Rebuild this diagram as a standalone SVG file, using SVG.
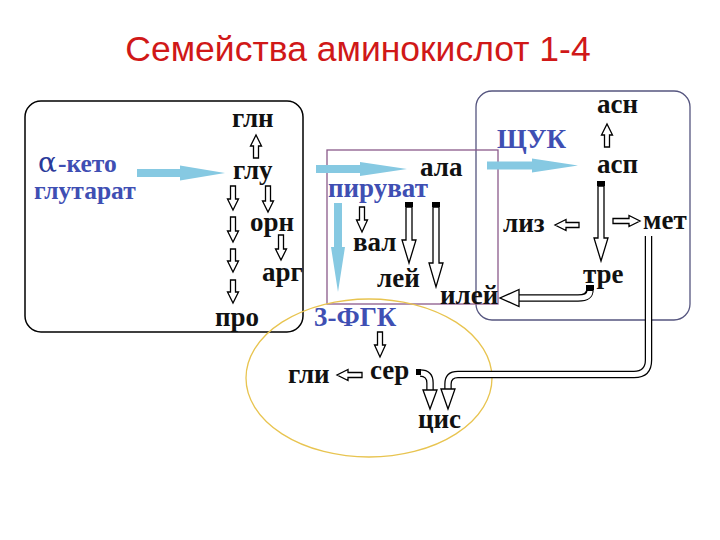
<svg xmlns="http://www.w3.org/2000/svg" width="720" height="540" viewBox="0 0 720 540">
<style>
.t{font-family:"Liberation Serif","Times New Roman",serif;font-weight:bold;font-size:27px;fill:#111}
.b{fill:#3f4fb3}
.s{font-size:25.5px}
.title{font-family:"Liberation Sans",Arial,sans-serif;font-size:35.5px;fill:#d01818}
.ha{fill:#fff;stroke:#000;stroke-width:1.3;stroke-linejoin:miter}
.lb{fill:#86c9e2}
.cap{fill:#000}
.dbl{fill:none;stroke:#000;stroke-width:7.5}
.dbl2{fill:none;stroke:#fff;stroke-width:5}
</style>
<rect width="720" height="540" fill="#fff"/>
<text class="title" x="358" y="61" text-anchor="middle">Семейства аминокислот 1-4</text>

<g id="groups">
<rect id="box-akg" x="25" y="101" width="278" height="231" rx="16" fill="none" stroke="#000" stroke-width="1.5"/>
<rect id="box-oaa" x="476" y="91" width="214" height="229" rx="16" fill="none" stroke="#55557f" stroke-width="1.3"/>
<rect id="box-pyr" x="327" y="150" width="171" height="154" fill="none" stroke="#8a5a8a" stroke-width="1.3"/>
<ellipse id="ell-3pg" cx="369" cy="378" rx="123" ry="79" fill="none" stroke="#e8c450" stroke-width="1.3"/>
</g>

<g id="connectors">
<!-- light blue arrows -->
<path class="lb" d="M137 169 H180 V165.5 L225 173 L180 180.5 V177 H137 Z"/>
<path class="lb" d="M316 165 H360 V162 L407 169 L360 176 V173 H316 Z"/>
<path class="lb" d="M487 161.5 H532 V158.5 L578 165.5 L532 172.5 V169.5 H487 Z"/>
<path class="lb" d="M334 203 V247 H331 L338 292 L345 247 H342 V203 Z"/>
<!-- small hollow arrows, akg family -->
<path class="ha" d="M253.5 158 V146 H250.5 L256 135 L261.5 146 H258.5 V158 Z"/>
<path class="ha" d="M230.5 186 V199 H227.5 L233 210 L238.5 199 H235.5 V186 Z"/>
<path class="ha" d="M230.5 217 V231 H227.5 L233 242 L238.5 231 H235.5 V217 Z"/>
<path class="ha" d="M230.5 249 V261 H227.5 L233 272 L238.5 261 H235.5 V249 Z"/>
<path class="ha" d="M230.5 280 V292 H227.5 L233 303 L238.5 292 H235.5 V280 Z"/>
<path class="ha" d="M265.5 186 V201 H262.5 L268 212 L273.5 201 H270.5 V186 Z"/>
<path class="ha" d="M278.5 235 V249 H275.5 L281 260 L286.5 249 H283.5 V235 Z"/>
<!-- pyruvate family -->
<path class="ha" d="M359.5 207 V220 H356.5 L362 232 L367.5 220 H364.5 V207 Z"/>
<rect class="cap" x="405" y="202" width="8" height="5"/>
<path class="ha" d="M406 207 V240 H402 L409 263 L416 240 H412 V207 Z"/>
<rect class="cap" x="432" y="202" width="8" height="5"/>
<path class="ha" d="M433 207 V263 H429 L436 287 L443 263 H439 V207 Z"/>
<!-- oxaloacetate family -->
<path class="ha" d="M604.5 147 V135 H601.5 L607 124 L612.5 135 H609.5 V147 Z"/>
<rect class="cap" x="597" y="181" width="8" height="5"/>
<path class="ha" d="M598 186 V238 H594 L601 261 L608 238 H604 V186 Z"/>
<path class="ha" d="M579 222.5 H566 V219.5 L555 225 L566 230.5 V227.5 H579 Z"/>
<path class="ha" d="M613 218.5 H629 V215.5 L640 221 L629 226.5 V223.5 H613 Z"/>
<!-- thr -> ile -->
<path class="dbl" d="M590 289 Q590 298 578 298 H518"/>
<path class="dbl2" d="M590 291 Q590 298 578 298 H516"/>
<path class="ha" d="M519 289.5 L500 298 L519 306.5 Z"/>
<rect class="cap" x="586" y="285" width="8" height="5"/>
<!-- 3PG family -->
<path class="ha" d="M377.5 332 V345 H374.5 L380 357 L385.5 345 H382.5 V332 Z"/>
<path class="ha" d="M362 372.5 H348 V369.5 L337 375 L348 380.5 V377.5 H362 Z"/>
<!-- ser -> cys -->
<path class="dbl" d="M420 373 Q430 373 430 383 V391"/>
<path class="dbl2" d="M420 373 Q430 373 430 383 V393"/>
<path class="ha" d="M423 390 L430 409 L437 390 Z"/>
<rect class="cap" x="416" y="369" width="5" height="6"/>
<!-- met -> cys -->
<path class="dbl" d="M648.5 236 V360 Q648.5 374.5 634 374.5 H458 Q448 374.5 448 384 V389"/>
<path class="dbl2" d="M648.5 234 V360 Q648.5 374.5 634 374.5 H458 Q448 374.5 448 384 V391"/>
<path class="ha" d="M441 389 L448 409 L455 389 Z"/>
</g>

<g id="n-gln"><text class="t" x="232" y="127">глн</text></g>
<g id="n-glu"><text class="t" x="233" y="179">глу</text></g>
<g id="n-orn"><text class="t" x="250" y="231">орн</text></g>
<g id="n-arg"><text class="t" x="262" y="281">арг</text></g>
<g id="n-pro"><text class="t" x="215" y="326">про</text></g>
<g id="n-akg"><text x="38" y="172" style="font-family:'DejaVu Serif',serif;font-size:28px" fill="#2a3a9a">α</text>
<text class="t b s" x="58" y="172">-кето</text>
<text class="t b s" x="34" y="199">глутарат</text></g>
<g id="n-ala"><text class="t" x="420" y="176">ала</text></g>
<g id="n-pyr"><text class="t b" x="328" y="197">пируват</text></g>
<g id="n-val"><text class="t" x="353" y="251">вал</text></g>
<g id="n-leu"><text class="t" x="377" y="287">лей</text></g>
<g id="n-ile"><text class="t" x="440" y="304">илей</text></g>
<g id="n-asn"><text class="t" x="597" y="113">асн</text></g>
<g id="n-oaa"><text class="t b" x="497" y="148">ЩУК</text></g>
<g id="n-asp"><text class="t" x="597" y="173">асп</text></g>
<g id="n-lys"><text class="t" x="503" y="232">лиз</text></g>
<g id="n-met"><text class="t" x="643" y="229">мет</text></g>
<g id="n-thr"><text class="t" x="583" y="283">тре</text></g>
<g id="n-3pg"><text class="t b" x="314" y="326">3-ФГК</text></g>
<g id="n-ser"><text class="t" x="370" y="379">сер</text></g>
<g id="n-gly"><text class="t" x="288" y="383">гли</text></g>
<g id="n-cys"><text class="t" x="418" y="428">цис</text></g>
</svg>
